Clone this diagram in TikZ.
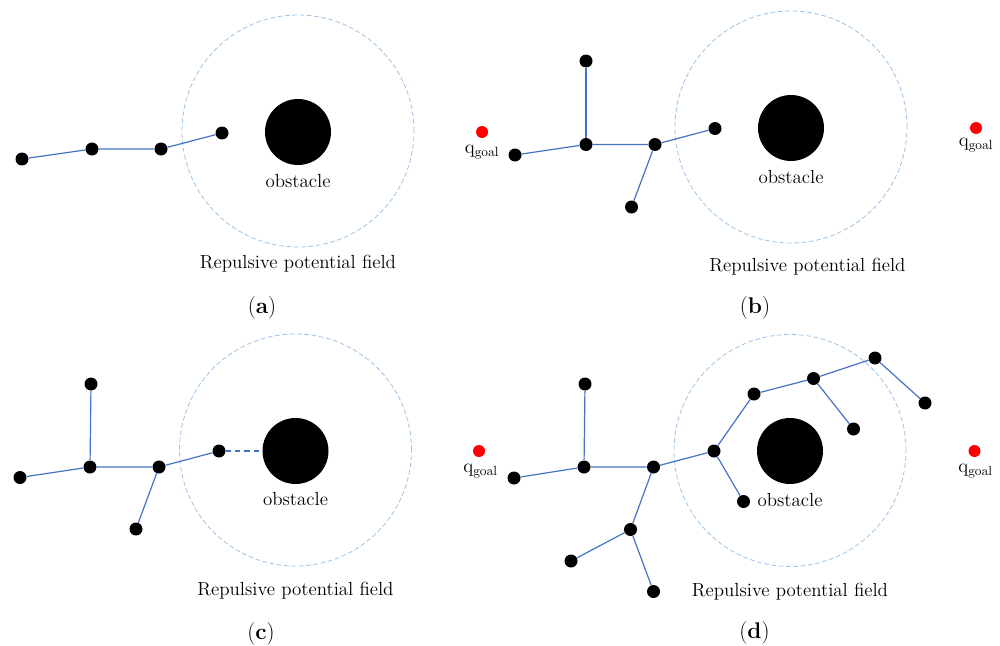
\documentclass[tikz,border=0pt]{standalone}
\usepackage{tikz}
\usepackage{xcolor}
\definecolor{linkblue}{RGB}{68,114,196}
\definecolor{fieldblue}{RGB}{157,195,230}

\begin{document}
\begin{tikzpicture}[x=0.75pt, y=-0.75pt,
  joint/.style={circle, fill=black, inner sep=0pt, minimum size=9.75pt},
  goal/.style={circle, fill=red, inner sep=0pt, minimum size=9pt},
  obst/.style={circle, fill=black, inner sep=0pt, minimum size=49.5pt},
  field/.style={circle, draw=fieldblue, line width=0.6pt, dash pattern=on 3.5pt off 2pt, inner sep=0pt, minimum size=174pt},
  link/.style={draw=linkblue, line width=0.9pt},
  lbl/.style={inner sep=0pt, font=\fontsize{14.2}{17}\selectfont},
  tag/.style={inner sep=0pt, font=\fontsize{17}{20}\selectfont}]
  \useasboundingbox (0,0) rectangle (1000,646);

  % (a)
  \node[field] (rf-a) at (298,131) {};
  \node[obst] (ob-a) at (298,132) {};
  \node[joint] (a1) at (22,159) {};
  \node[joint] (a2) at (92,149) {};
  \node[joint] (a3) at (161,149) {};
  \node[joint] (a4) at (222,133) {};
  \draw[link] (a1) -- (a2) -- (a3) -- (a4);
  \node[lbl] (ot-a) at (298,181) {obstacle};
  \node[lbl] (rt-a) at (298,264) {Repulsive potential field};
  \node[tag] (cap-a) at (262,308) {(\textbf{a})};

  % (b)
  \node[field] (rf-b) at (791,127) {};
  \node[obst] (ob-b) at (791,128) {};
  \node[goal] (gl-b) at (482,132) {};
  \node[lbl] (glt-b) at (482,152.5) {$\mathrm{q}_{\mathrm{goal}}$};
  \node[goal] (gr-b) at (976,128) {};
  \node[lbl] (grt-b) at (976,145.5) {$\mathrm{q}_{\mathrm{goal}}$};
  \node[joint] (b1) at (515,155) {};
  \node[joint] (b2) at (586,144.5) {};
  \node[joint] (b3) at (586,61) {};
  \node[joint] (b4) at (655,144.5) {};
  \node[joint] (b5) at (631.5,207) {};
  \node[joint] (b6) at (715,128.5) {};
  \draw[link] (b1) -- (b2) -- (b4) -- (b6);
  \draw[link] (b2) -- (b3);
  \draw[link] (b4) -- (b5);
  \node[lbl] (ot-b) at (791,177) {obstacle};
  \node[lbl] (rt-b) at (807.5,267) {Repulsive potential field};
  \node[tag] (cap-b) at (755,308) {(\textbf{b})};

  % (c)
  \node[field] (rf-c) at (295.5,450) {};
  \node[obst] (ob-c) at (295.5,451) {};
  \node[joint] (c1) at (20,477.5) {};
  \node[joint] (c2) at (90,467) {};
  \node[joint] (c3) at (91,384) {};
  \node[joint] (c4) at (159,467) {};
  \node[joint] (c5) at (136,529) {};
  \node[joint] (c6) at (219,451) {};
  \draw[link] (c1) -- (c2) -- (c4) -- (c6);
  \draw[link] (c2) -- (c3);
  \draw[link] (c4) -- (c5);
  \draw[link, dash pattern=on 4pt off 3pt] (c6) -- (ob-c);
  \node[lbl] (ot-c) at (295.5,499.5) {obstacle};
  \node[lbl] (rt-c) at (295.5,591) {Repulsive potential field};
  \node[tag] (cap-c) at (261,634) {(\textbf{c})};

  % (d)
  \node[field] (rf-d) at (790,450.5) {};
  \node[obst] (ob-d) at (790,451) {};
  \node[goal] (gl-d) at (479,451) {};
  \node[lbl] (glt-d) at (480.5,471.5) {$\mathrm{q}_{\mathrm{goal}}$};
  \node[goal] (gr-d) at (974.5,451) {};
  \node[lbl] (grt-d) at (975.5,471.5) {$\mathrm{q}_{\mathrm{goal}}$};
  \node[joint] (d1) at (514,478) {};
  \node[joint] (d2) at (584,467) {};
  \node[joint] (d3) at (585,384) {};
  \node[joint] (d4) at (653.5,467) {};
  \node[joint] (d5) at (630.5,529.5) {};
  \node[joint] (d6) at (571,561) {};
  \node[joint] (d7) at (653.5,591.5) {};
  \node[joint] (d8) at (714,451) {};
  \node[joint] (d9) at (743.5,501.5) {};
  \node[joint] (d10) at (754,394) {};
  \node[joint] (d11) at (813.5,378.5) {};
  \node[joint] (d12) at (853.5,429) {};
  \node[joint] (d13) at (875,358) {};
  \node[joint] (d14) at (925,403) {};
  \draw[link] (d1) -- (d2) -- (d4) -- (d8) -- (d10) -- (d11) -- (d13) -- (d14);
  \draw[link] (d2) -- (d3);
  \draw[link] (d4) -- (d5) -- (d6);
  \draw[link] (d5) -- (d7);
  \draw[link] (d8) -- (d9);
  \draw[link] (d11) -- (d12);
  \node[lbl] (ot-d) at (790,500) {obstacle};
  \node[lbl] (rt-d) at (790,591.5) {Repulsive potential field};
  \node[tag] (cap-d) at (754.5,633) {(\textbf{d})};
\end{tikzpicture}
\end{document}
